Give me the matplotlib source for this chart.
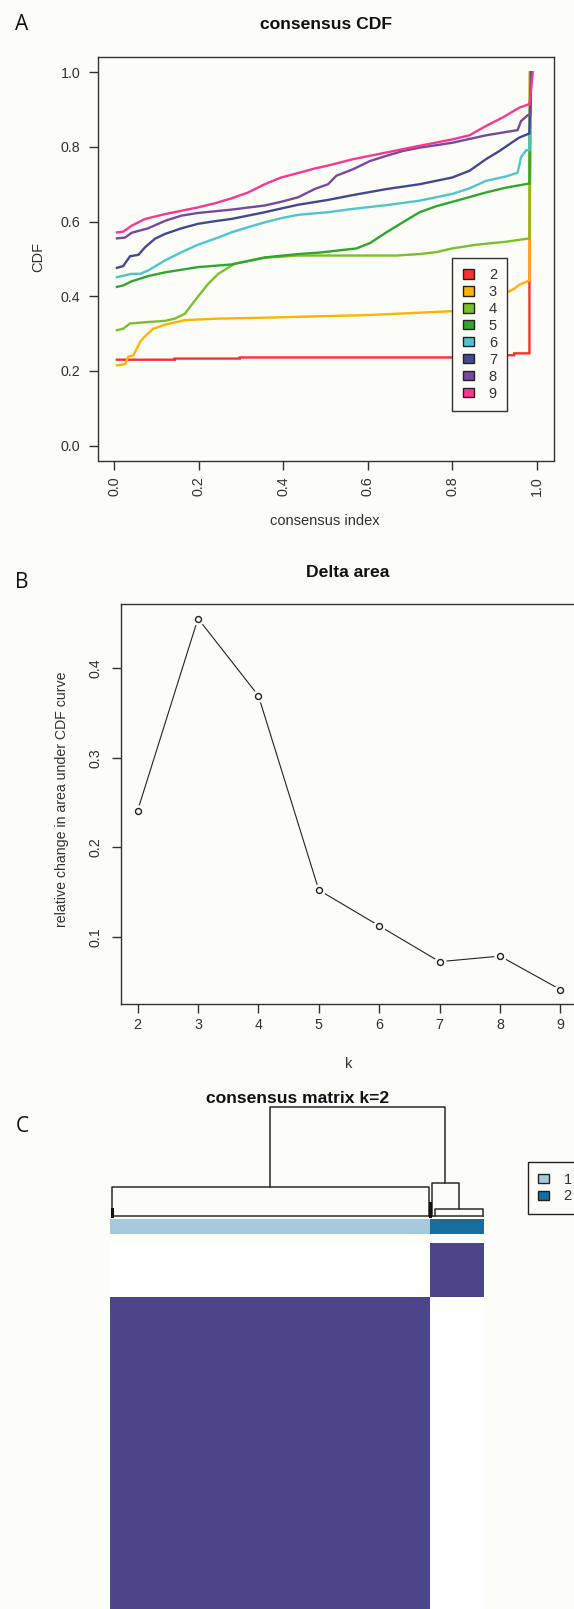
import numpy as np
import matplotlib

matplotlib.use("Agg")
import matplotlib.pyplot as plt
from matplotlib.colors import ListedColormap
from matplotlib.patches import Patch

plt.rcParams["font.family"] = ["Liberation Sans", "DejaVu Sans"]

# --- panel A: consensus CDF, one curve per k ---
cdf_k = ["2", "3", "4", "5", "6", "7", "8", "9"]
cdf_colors = ["#F83030", "#FFB300", "#7DBE2C", "#30A530", "#4FC4CF", "#434890", "#7A479E", "#F8388F"]

cdf_x2 = [0.006, 0.143, 0.143, 0.297, 0.297, 0.918, 0.918, 0.947, 0.947, 0.983, 0.983, 0.986]
cdf_y2 = [0.230, 0.230, 0.233, 0.233, 0.236, 0.236, 0.242, 0.242, 0.247, 0.247, 0.440, 1.0]
cdf_x3 = [0.006, 0.025, 0.033, 0.045, 0.061, 0.0725, 0.092, 0.12, 0.167, 0.246, 0.372, 0.506,
          0.589, 0.668, 0.762, 0.80, 0.86, 0.905, 0.918, 0.928, 0.947, 0.959, 0.983, 0.984]
cdf_y3 = [0.215, 0.218, 0.238, 0.242, 0.278, 0.293, 0.313, 0.324, 0.336, 0.340, 0.343, 0.347,
          0.349, 0.353, 0.358, 0.360, 0.362, 0.372, 0.389, 0.409, 0.420, 0.431, 0.442, 1.0]
cdf_x4 = [0.006, 0.021, 0.037, 0.080, 0.12, 0.143, 0.167, 0.191, 0.222, 0.246, 0.285, 0.356,
          0.435, 0.506, 0.668, 0.723, 0.762, 0.80, 0.857, 0.928, 0.983, 0.984]
cdf_y4 = [0.309, 0.313, 0.327, 0.331, 0.334, 0.340, 0.353, 0.389, 0.433, 0.460, 0.487, 0.503,
          0.509, 0.509, 0.509, 0.513, 0.518, 0.528, 0.538, 0.546, 0.555, 1.0]
cdf_x5 = [0.006, 0.021, 0.041, 0.080, 0.12, 0.198, 0.277, 0.356, 0.435, 0.487, 0.573, 0.605,
          0.644, 0.683, 0.723, 0.762, 0.817, 0.880, 0.928, 0.983, 0.985]
cdf_y5 = [0.425, 0.429, 0.440, 0.454, 0.464, 0.478, 0.485, 0.504, 0.513, 0.517, 0.528, 0.542,
          0.571, 0.598, 0.625, 0.641, 0.658, 0.678, 0.691, 0.702, 1.0]
cdf_x6 = [0.006, 0.041, 0.061, 0.080, 0.12, 0.159, 0.198, 0.238, 0.277, 0.317, 0.356, 0.395,
          0.435, 0.506, 0.565, 0.644, 0.723, 0.80, 0.841, 0.880, 0.928, 0.955, 0.963, 0.975,
          0.983, 0.986]
cdf_y6 = [0.451, 0.460, 0.460, 0.469, 0.496, 0.518, 0.538, 0.554, 0.571, 0.585, 0.598, 0.609,
          0.618, 0.625, 0.634, 0.644, 0.656, 0.674, 0.689, 0.709, 0.721, 0.731, 0.772, 0.791,
          0.791, 1.0]
cdf_x7 = [0.006, 0.021, 0.037, 0.057, 0.0725, 0.096, 0.12, 0.159, 0.198, 0.238, 0.277, 0.317,
          0.356, 0.395, 0.435, 0.506, 0.565, 0.644, 0.723, 0.80, 0.841, 0.880, 0.912, 0.943,
          0.959, 0.983, 0.987]
cdf_y7 = [0.476, 0.481, 0.507, 0.511, 0.531, 0.554, 0.567, 0.582, 0.594, 0.601, 0.607, 0.616,
          0.625, 0.635, 0.645, 0.658, 0.671, 0.687, 0.700, 0.718, 0.736, 0.767, 0.789, 0.813,
          0.825, 0.836, 1.0]
cdf_x8 = [0.006, 0.025, 0.041, 0.080, 0.12, 0.159, 0.198, 0.277, 0.356, 0.395, 0.435, 0.474,
          0.506, 0.526, 0.565, 0.605, 0.644, 0.683, 0.723, 0.80, 0.880, 0.955, 0.963, 0.979,
          0.985, 0.988]
cdf_y8 = [0.555, 0.557, 0.570, 0.582, 0.602, 0.616, 0.623, 0.632, 0.643, 0.653, 0.665, 0.687,
          0.700, 0.723, 0.740, 0.762, 0.776, 0.789, 0.798, 0.811, 0.831, 0.845, 0.869, 0.885,
          0.885, 1.0]
cdf_x9 = [0.006, 0.021, 0.041, 0.0725, 0.12, 0.159, 0.198, 0.238, 0.277, 0.317, 0.356, 0.395,
          0.435, 0.474, 0.506, 0.565, 0.644, 0.723, 0.80, 0.841, 0.880, 0.920, 0.959, 0.983,
          0.991]
cdf_y9 = [0.571, 0.573, 0.589, 0.607, 0.620, 0.629, 0.638, 0.649, 0.662, 0.678, 0.700, 0.718,
          0.730, 0.742, 0.750, 0.767, 0.785, 0.803, 0.820, 0.831, 0.856, 0.879, 0.905, 0.915,
          1.0]
cdf_xs = [cdf_x2, cdf_x3, cdf_x4, cdf_x5, cdf_x6, cdf_x7, cdf_x8, cdf_x9]
cdf_ys = [cdf_y2, cdf_y3, cdf_y4, cdf_y5, cdf_y6, cdf_y7, cdf_y8, cdf_y9]

# --- panel B: delta area ---
delta_k = [2, 3, 4, 5, 6, 7, 8, 9]
delta_area = [0.241, 0.455, 0.369, 0.1525, 0.1126, 0.0727, 0.0789, 0.0416]

# --- panel C: consensus matrix k=2 ---
cluster_sizes = [101, 17]
cluster_colors = ["#A6CADC", "#166FA0"]
# dendrogram merge heights (relative): cluster 1, cluster 2, cluster 2 sub-branch, root
h_c1, h_c2, h_c2sub, h_root = 0.26, 0.30, 0.065, 1.0

BG = "#FDFDF7"
INK = "#333030"
PURPLE = "#4B4589"
W, H = 574, 1609


def box(x0, y0, x1, y1):
    # pixel box (top-left origin) -> figure fraction rect
    return [x0 / W, 1 - y1 / H, (x1 - x0) / W, (y1 - y0) / H]


fig = plt.figure(figsize=(W / 100, H / 100), dpi=100, facecolor=BG)

# ---------------- A ----------------
axA = fig.add_axes(box(97.5, 57.3, 553.5, 460.5), facecolor=BG)
for xs, ys, col in zip(cdf_xs, cdf_ys, cdf_colors):
    axA.plot(xs, ys, color=col, lw=1.7, solid_joinstyle="miter")
axA.set_xlim(-0.04, 1.04)
axA.set_ylim(-0.04, 1.04)
ticks = np.arange(0, 1.01, 0.2)
axA.set_xticks(ticks, [f"{t:.1f}" for t in ticks], rotation=90)
axA.set_yticks(ticks, [f"{t:.1f}" for t in ticks])
axA.tick_params(axis="x", length=6.5, width=1, pad=5.0, labelsize=10.3, colors=INK)
axA.tick_params(axis="y", length=6.5, width=1, pad=6.0, labelsize=10.3, colors=INK)
axA.set_xlabel("consensus index", fontsize=10.5, color=INK)
axA.set_ylabel("CDF", fontsize=10.5, color=INK)
axA.xaxis.label.set_verticalalignment("center")
axA.yaxis.label.set_verticalalignment("center")
axA.xaxis.set_label_coords(0.499, -0.149)
axA.yaxis.set_label_coords(-0.1305, 0.5055)
for s in axA.spines.values():
    s.set_color(INK)
    s.set_linewidth(1.0)
handles = [Patch(facecolor=c, edgecolor="#222222", linewidth=1.0) for c in cdf_colors]
legA = axA.legend(handles, cdf_k, loc="upper left",
                  bbox_to_anchor=(452.3 / W, 1 - 258 / H), bbox_transform=fig.transFigure,
                  fontsize=10.5, frameon=True, fancybox=False, edgecolor=INK,
                  facecolor=BG, framealpha=1, handlelength=0.8, handleheight=0.6,
                  handletextpad=1.0, labelspacing=0.2, borderpad=0.7, borderaxespad=0)
legA.get_frame().set_linewidth(1.0)
for t in legA.get_texts():
    t.set_color(INK)
fig.text(325.7 / W, 1 - 24.3 / H, "consensus CDF", ha="center", va="center",
         fontsize=12.6, fontweight="bold", color="#111111")

# ---------------- B ----------------
axB = fig.add_axes(box(120.7, 603.7, 577.3, 1004.4), facecolor=BG)
axB.plot(delta_k, delta_area, color="#222222", lw=0.8, zorder=1)
axB.plot(delta_k, delta_area, ls="none", marker="o", ms=9, mfc=BG, mec="none", zorder=2)
axB.plot(delta_k, delta_area, ls="none", marker="o", ms=4.3, mfc=BG, mec="#222222",
         mew=1.0, zorder=3)
axB.set_xlim(1.72, 9.28)
axB.set_ylim(0.0251, 0.4715)
axB.set_xticks(delta_k)
axB.set_yticks([0.1, 0.2, 0.3, 0.4])
axB.tick_params(axis="x", length=6.5, width=1, pad=3.0, labelsize=10.3, colors=INK)
axB.tick_params(axis="y", length=6.5, width=1, pad=6.5, labelsize=10.3, colors=INK,
                labelrotation=90)
for lab in axB.get_yticklabels():
    lab.set_verticalalignment("center")
axB.set_xlabel("k", fontsize=10.5, color=INK)
axB.set_ylabel("relative change in area under CDF curve", fontsize=10.2, color=INK)
axB.xaxis.label.set_verticalalignment("center")
axB.yaxis.label.set_verticalalignment("center")
axB.xaxis.set_label_coords(0.499, -0.1487)
axB.yaxis.set_label_coords(-0.1281, 0.513)
for s in axB.spines.values():
    s.set_color(INK)
    s.set_linewidth(1.0)
fig.text(347.7 / W, 1 - 572.6 / H, "Delta area", ha="center", va="center",
         fontsize=12.6, fontweight="bold", color="#111111")

# ---------------- C ----------------
n1, n2 = cluster_sizes
n = n1 + n2
labels = np.repeat([0, 1], cluster_sizes)
row_labels = labels[::-1]
mat = (row_labels[:, None] == labels[None, :]).astype(float)

axH = fig.add_axes(box(110.3, 1243, 484.3, 1617))
axH.imshow(mat, cmap=ListedColormap(["#FFFFFF", PURPLE]), aspect="auto",
           interpolation="nearest", extent=(0, n, n, 0))
axH.set_axis_off()

axBar = fig.add_axes(box(110.3, 1219.3, 484.3, 1234.3))
axBar.imshow(labels[None, :], cmap=ListedColormap(cluster_colors), aspect="auto",
             interpolation="nearest", extent=(0, n, 1, 0))
axBar.set_axis_off()

axD = fig.add_axes(box(110.3, 1106.8, 484.3, 1215.7))
axD.set_xlim(0, n)
axD.set_ylim(0, 1)
axD.set_axis_off()
dk = dict(color="#2a2a2a", lw=1.1, clip_on=False, solid_capstyle="projecting")
# flat within-cluster merges along the baseline
axD.plot([0.5, n - 0.5], [0, 0], **dk)
c1_l, c1_r = 0.5, n1 - 0.5
sub_l, sub_r = n1 + 1.5, n - 0.5
c2_l, c2_r = n1 + 0.5, (sub_l + sub_r) / 2
c1_mid, c2_mid = (c1_l + c1_r) / 2, (c2_l + c2_r) / 2
axD.plot([c1_l, c1_l, c1_r, c1_r], [0, h_c1, h_c1, 0], **dk)
axD.plot([sub_l, sub_l, sub_r, sub_r], [0, h_c2sub, h_c2sub, 0], **dk)
axD.plot([c2_l, c2_l, c2_r, c2_r], [0, h_c2, h_c2, h_c2sub], **dk)
axD.plot([c1_mid, c1_mid, c2_mid, c2_mid], [h_c1, h_root, h_root, h_c2], **dk)
axD.plot([c1_l, c1_l], [0, 0.06], color="#111111", lw=2.2, clip_on=False)
axD.plot([c1_r + 0.5, c1_r + 0.5], [0, 0.12], color="#111111", lw=2.2, clip_on=False)

handlesC = [Patch(facecolor=c, edgecolor="#222222", linewidth=1.0) for c in cluster_colors]
legC = fig.legend(handlesC, ["1", "2"], loc="upper left",
                  bbox_to_anchor=(527.7 / W, 1 - 1162.3 / H), fontsize=10.5,
                  frameon=True, fancybox=False, edgecolor="#222222", facecolor=BG,
                  framealpha=1, handlelength=0.75, handleheight=0.6, handletextpad=1.0,
                  labelspacing=0.2, borderpad=0.7, borderaxespad=0)
legC.get_frame().set_linewidth(1.0)
for t in legC.get_texts():
    t.set_color(INK)
fig.text(297.2 / W, 1 - 1098.2 / H, "consensus matrix k=2", ha="center", va="center",
         fontsize=12.6, fontweight="bold", color="#111111")

# panel letters
for letter, ypix in [("A", 25), ("B", 583), ("C", 1126)]:
    fig.text(22 / W, 1 - ypix / H, letter, ha="center", va="center", fontsize=15,
             family=["Open Sans", "DejaVu Sans"], color="#111111")

fig.savefig("out.png", dpi=100, facecolor=BG)
